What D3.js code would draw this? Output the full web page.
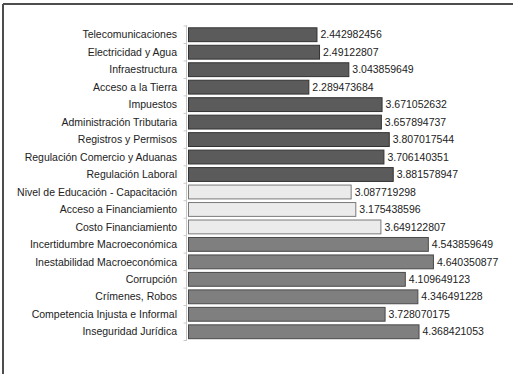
<!DOCTYPE html>
<html>
<head>
<meta charset="utf-8">
<script src="https://cdn.jsdelivr.net/npm/d3@7"></script>
<style>
  html, body { margin: 0; padding: 0; background: #fff; }
  svg { display: block; font-family: "Liberation Sans", Arial, sans-serif; }
</style>
</head>
<body>
<svg id="chart" width="513" height="374"></svg>
<script>
// Obstacle categories, top to bottom
const categories = [
  "Telecomunicaciones", "Electricidad y Agua", "Infraestructura", "Acceso a la Tierra",
  "Impuestos", "Administración Tributaria", "Registros y Permisos",
  "Regulación Comercio y Aduanas", "Regulación Laboral",
  "Nivel de Educación - Capacitación", "Acceso a Financiamiento", "Costo Financiamiento",
  "Incertidumbre Macroeconómica", "Inestabilidad Macroeconómica", "Corrupción",
  "Crímenes, Robos", "Competencia Injusta e Informal", "Inseguridad Jurídica"
];

// Average score per category
const values = [
  2.442982456, 2.49122807, 3.043859649, 2.289473684,
  3.671052632, 3.657894737, 3.807017544,
  3.706140351, 3.881578947,
  3.087719298, 3.175438596, 3.649122807,
  4.543859649, 4.640350877, 4.109649123,
  4.346491228, 3.728070175, 4.368421053
];

// Group of each category (drives the fill colour)
const groups = [
  "infra", "infra", "infra", "infra",
  "infra", "infra", "infra",
  "infra", "infra",
  "fin", "fin", "fin",
  "macro", "macro", "macro",
  "macro", "macro", "macro"
];

const fillByGroup = { infra: "#5b5b5b", fin: "#ebebeb", macro: "#7f7f7f" };
const strokeByGroup = { infra: "#333333", fin: "#7a7a7a", macro: "#4a4a4a" };

const data = categories.map((c, i) => ({ cat: c, value: values[i], group: groups[i] }));

const svg = d3.select("#chart");

// Frame lines (top and left)
svg.append("line").attr("x1", 3).attr("x2", 513).attr("y1", 4).attr("y2", 4)
  .attr("stroke", "#4d4d4d").attr("stroke-width", 2);
svg.append("line").attr("x1", 3).attr("x2", 3).attr("y1", 4).attr("y2", 374)
  .attr("stroke", "#4d4d4d").attr("stroke-width", 2);

const x = d3.scaleLinear().domain([0, 5]).range([188, 453]);
const y = d3.scaleBand().domain(categories).range([26, 340.5])
  .paddingInner(0.15).paddingOuter(0.075);

// Category axis: light vertical line with small ticks between rows
const axisX = 186.5;
svg.append("line").attr("x1", axisX).attr("x2", axisX).attr("y1", 25).attr("y2", 341)
  .attr("stroke", "#c8c8c8").attr("stroke-width", 1);
const step = y.step();
d3.range(categories.length + 1).forEach(i => {
  const yy = 26 + i * step;
  svg.append("line").attr("x1", axisX - 3).attr("x2", axisX).attr("y1", yy).attr("y2", yy)
    .attr("stroke", "#c8c8c8").attr("stroke-width", 1);
});

// Bars
svg.append("g").selectAll("rect").data(data).join("rect")
  .attr("x", x(0) + 0.5)
  .attr("y", d => y(d.cat) + 0.5)
  .attr("width", d => x(d.value) - x(0) - 1)
  .attr("height", y.bandwidth() - 1)
  .attr("fill", d => fillByGroup[d.group])
  .attr("stroke", d => strokeByGroup[d.group])
  .attr("stroke-width", 1);

// Category labels
svg.append("g").selectAll("text").data(data).join("text")
  .attr("x", 177)
  .attr("y", d => y(d.cat) + y.bandwidth() / 2)
  .attr("dy", "0.35em")
  .attr("text-anchor", "end")
  .attr("font-size", 10.5)
  .attr("fill", "#222")
  .text(d => d.cat);

// Value labels
svg.append("g").selectAll("text").data(data).join("text")
  .attr("x", d => x(d.value) + 3)
  .attr("y", d => y(d.cat) + y.bandwidth() / 2)
  .attr("dy", "0.35em")
  .attr("font-size", 10.5)
  .attr("fill", "#222")
  .text(d => String(d.value));
</script>
</body>
</html>
